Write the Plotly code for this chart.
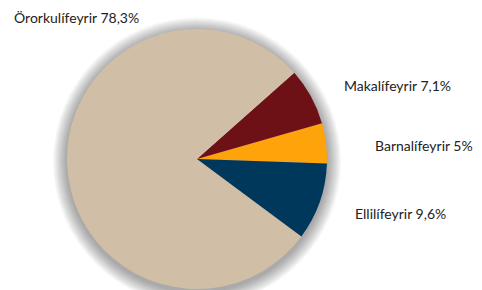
import plotly.graph_objects as go

labels = ["Barnalífeyrir", "Makalífeyrir", "Örorkulífeyrir", "Ellilífeyrir"]
values = [5.0, 7.1, 78.3, 9.6]
colors = ["#FFA30A", "#6E1116", "#D0BFA6", "#00385C"]

# label placement (paper coords), kept separate from data
label_pos = {
    "Örorkulífeyrir": (-0.2115, 1.046),
    "Makalífeyrir": (1.0577, 0.7846),
    "Barnalífeyrir": (1.177, 0.5538),
    "Ellilífeyrir": (1.10, 0.2885),
}

def fmt(v):
    return f"{v:g}".replace(".", ",") + "%"

total = sum(values)
start_rot = 92 - values[0] / total * 360

fig = go.Figure(go.Pie(
    labels=labels, values=values, sort=False,
    direction="counterclockwise", rotation=start_rot,
    marker=dict(colors=colors, line=dict(width=0)),
    textinfo="none", hoverinfo="label+percent",
    showlegend=False,
))

# soft drop shadow behind the pie
shapes = []
n = 12
for i in range(n):
    d = 0.0045 * (i + 1)
    off = 0.010
    shapes.append(dict(type="circle", xref="paper", yref="paper",
                       x0=-d, x1=1 + d, y0=-d - off, y1=1 + d - off,
                       fillcolor="rgba(0,0,0,0.03)", line=dict(width=0),
                       layer="below"))

annotations = []
for lab, val in zip(labels, values):
    x, y = label_pos[lab]
    annotations.append(dict(text=f"{lab} {fmt(val)}", x=x, y=y,
                            xref="paper", yref="paper", xanchor="left",
                            yanchor="middle", showarrow=False,
                            font=dict(family="Lato", size=14, color="#222222")))

fig.update_layout(
    width=474, height=282,
    margin=dict(l=59, r=155, t=21, b=1),
    paper_bgcolor="white", plot_bgcolor="white",
    shapes=shapes, annotations=annotations,
)
fig.write_html("out.html")
